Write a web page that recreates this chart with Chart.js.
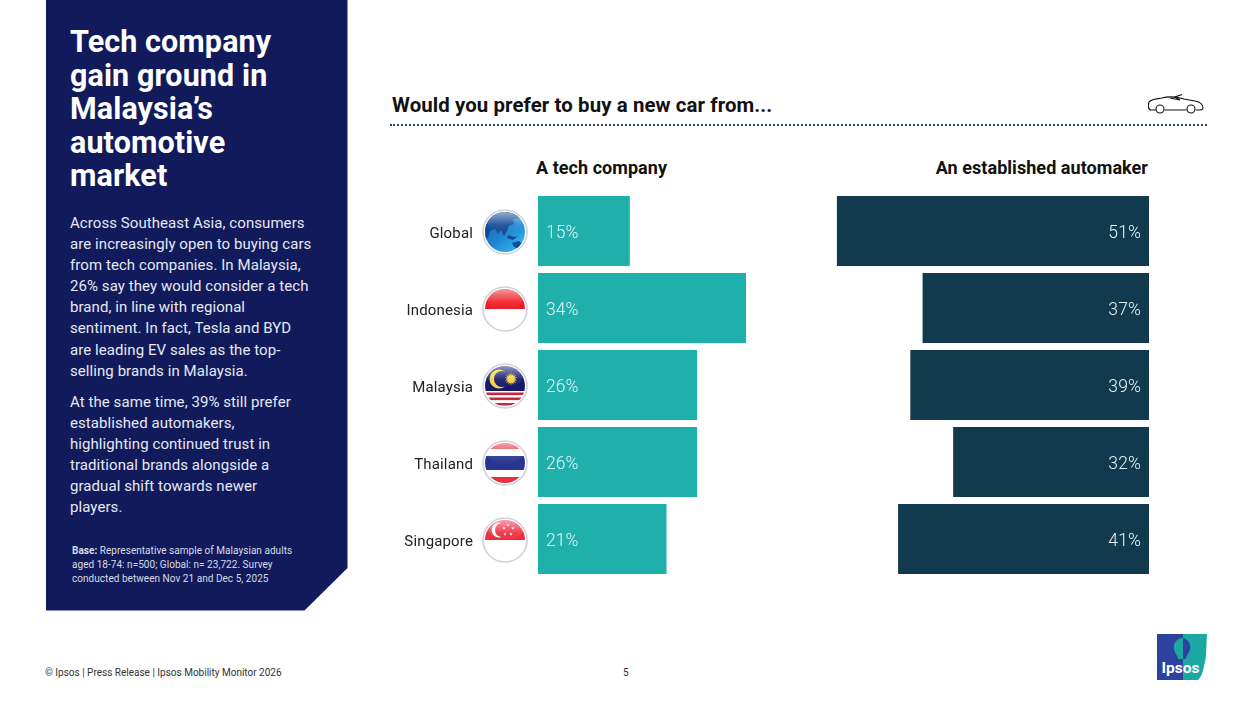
<!DOCTYPE html>
<html><head><meta charset="utf-8">
<script src="https://cdn.jsdelivr.net/npm/chart.js@4"></script>
<style>
html,body{margin:0;padding:0;background:#fff;width:1252px;height:704px;overflow:hidden;font-family:Roboto,sans-serif;}
.abs{position:absolute;}
#panel{left:45.5px;top:0;width:302px;height:610.5px;background:#111b5c;clip-path:polygon(0 0,100% 0,100% 568px,259px 100%,0 100%);}
#title{left:70px;top:25px;color:#fff;font:700 30.5px/33.6px Roboto,sans-serif;letter-spacing:.1px;}
.body{left:70px;color:#e6e8f2;font:400 15px/21.1px Roboto,sans-serif;letter-spacing:.07px;white-space:pre;}
#base{left:72px;top:544px;color:#d8dbe8;font:400 10px/14px Roboto,sans-serif;letter-spacing:.04px;white-space:pre;}
#q{left:392px;top:93px;font:700 20.4px/24px Roboto,sans-serif;color:#111;letter-spacing:.1px;}
#rule{left:390px;top:123.5px;width:817px;border-top:2px dotted #1f4560;}
.h{top:157px;font:700 18px/22px Roboto,sans-serif;color:#111;white-space:pre;letter-spacing:.05px;}
.foot{top:666px;font:400 10px/14px Roboto,sans-serif;color:#333;white-space:pre;}
canvas{position:absolute;}
</style></head><body>
<div class="abs" id="panel"></div>
<div class="abs" id="title">Tech company<br>gain ground in<br>Malaysia’s<br>automotive<br>market</div>
<div class="abs body" style="top:213px">Across Southeast Asia, consumers
are increasingly open to buying cars
from tech companies. In Malaysia,
26% say they would consider a tech
brand, in line with regional
sentiment. In fact, Tesla and BYD
are leading EV sales as the top-
selling brands in Malaysia.</div>
<div class="abs body" style="top:392px">At the same time, 39% still prefer
established automakers,
highlighting continued trust in
traditional brands alongside a
gradual shift towards newer
players.</div>
<div class="abs" id="base"><b>Base:</b> Representative sample of Malaysian adults
aged 18-74: n=500; Global: n= 23,722. Survey
conducted between Nov 21 and Dec 5, 2025</div>
<div class="abs" id="q">Would you prefer to buy a new car from...</div>
<div class="abs" id="rule"></div>
<svg class="abs" style="left:1147px;top:94px" width="58" height="22" viewBox="0 0 58 22" fill="none" stroke="#111" stroke-width="1.1">
<path d="M9 16H4C1 16 1 11 2 8C4 5 10 5 15 4C22 2 30 3 37 5L48 7C53 8 56 10 56 14C56 16 54 16 49 16"/>
<circle cx="13" cy="15" r="4"/><circle cx="44" cy="15" r="4"/><path d="M17.500 16H39.500M23 4L33 6L28 3L35 0.500"/>
</svg>
<svg class="abs" style="left:1157px;top:634px" width="50" height="46" viewBox="0 0 50 46">
<path d="M25 0H50C49 14 50 22 47 32C46 38 44 43 41 46H25Z" fill="#1ba8a2"/>
<rect width="26" height="46" fill="#2d429f"/>
<path d="M26 4C19 4 16 10 17 15C18 20 21 22 21 25H26Z" fill="#1ba8a2"/>
<path d="M26 4C31 5 34 10 33 15C32 20 29 22 29 25H26Z" fill="#2d429f"/>
<text x="4.500" y="39" font-family="Roboto" font-weight="700" font-size="15.500" fill="#fff">Ipsos</text>
</svg>
<div class="abs h" style="left:536px">A tech company</div>
<div class="abs h" style="right:104px">An established automaker</div>
<div class="abs foot" style="left:45px">© Ipsos | Press Release | Ipsos Mobility Monitor 2026</div>
<div class="abs foot" style="left:623px">5</div>
<canvas id="c1" style="left:390px;top:192px" width="380" height="386"></canvas>
<canvas id="c2" style="left:770px;top:192px" width="379" height="386"></canvas>
<script>
const categories=["Global","Indonesia","Malaysia","Thailand","Singapore"];
const techCompany=[15,34,26,26,21];
const establishedAutomaker=[51,37,39,32,41];
Chart.defaults.animation=false;
const valueLabels={id:'valueLabels',afterDatasetsDraw(ch,a,o){
 const c=ch.ctx,m=ch.getDatasetMeta(0);c.save();c.fillStyle='#e6f5f4';c.font='300 17.5px Roboto,sans-serif';c.textBaseline='middle';
 c.letterSpacing='.1px';c.textAlign=o.right?'right':'left';
 m.data.forEach((b,i)=>c.fillText(ch.data.datasets[0].data[i]+'%',b.base+(o.right?-8:8),b.y+2.5));c.restore();}};
function star(c,x,y,r,n=5,k=.45){c.beginPath();for(let i=0;i<2*n;i++){const a=-Math.PI/2+i*Math.PI/n,q=i%2?r*k:r;c.lineTo(x+q*Math.cos(a),y+q*Math.sin(a));}c.fill();}
const painters={
 Global(c){const g=c.createLinearGradient(-14,-16,14,16);g.addColorStop(0,'#1a62b8');g.addColorStop(.55,'#1f86d2');g.addColorStop(1,'#35b2ec');c.fillStyle=g;c.fillRect(-21,-21,42,42);
  c.fillStyle='#134a96';c.fill(new Path2D('M-21 -21H18L14 -14L8 -13L9 -8L4 -6L2 -1L-1 4L-4 -2L-7 2L-10 -3L-15 -1L-17 6L-21 8Z'));
  c.fill(new Path2D('M3 3L9 5L13 4L8 8L2 6Z'));c.fill(new Path2D('M7 11L14 9L18 13L14 17L9 15Z'));},
 Indonesia(c){c.fillStyle='#ee1c25';c.fillRect(-21,-21,42,21);c.fillStyle='#fff';c.fillRect(-21,0,42,21);},
 Malaysia(c){c.fillStyle='#fff';c.fillRect(-21,-21,42,42);c.fillStyle='#14196e';c.fillRect(-21,-21,42,26);
  c.fillStyle='#c8283c';[6.500,11.500,17].forEach(y=>c.fillRect(-21,y,42,2.600));
  c.fillStyle='#f7d33a';c.beginPath();c.arc(-6,-7,9.500,0,7);c.fill();c.fillStyle='#14196e';c.beginPath();c.arc(-3,-7,8,0,7);c.fill();
  c.fillStyle='#f7d33a';star(c,6,-7,6.500,14,.55);},
 Thailand(c){c.fillStyle='#fff';c.fillRect(-21,-21,42,42);c.fillStyle='#e8303c';c.fillRect(-21,-21,42,7);c.fillRect(-21,14,42,7);c.fillStyle='#27358f';c.fillRect(-21,-7,42,14);},
 Singapore(c){c.fillStyle='#ef2b3d';c.fillRect(-21,-21,42,21);c.fillStyle='#fff';c.fillRect(-21,0,42,21);
  c.beginPath();c.arc(-6,-10,7.500,0,7);c.fill();c.fillStyle='#ef2b3d';c.beginPath();c.arc(-3,-10,7,0,7);c.fill();
  c.fillStyle='#fff';[[1,-15],[6,-12],[4,-6],[-2,-6],[-3,-12]].forEach(p=>star(c,p[0]+2,p[1],1.700));}
};
const flagIcons={id:'flagIcons',afterDraw(ch){
 const c=ch.ctx,y=ch.scales.y,cx=ch.scales.x.left-33;
 categories.forEach((n,i)=>{const cy=y.getPixelForTick(i)+1;c.save();c.translate(cx,cy);
  c.beginPath();c.arc(0,0,22,0,7);c.fillStyle='#fff';c.fill();c.strokeStyle='#cfd2d6';c.lineWidth=1.600;c.stroke();
  c.beginPath();c.arc(0,0,20,0,7);c.clip();painters[n](c);
  const g=c.createLinearGradient(0,-20,0,2);g.addColorStop(0,'rgba(255,255,255,.55)');g.addColorStop(.6,'rgba(255,255,255,.08)');g.addColorStop(1,'rgba(255,255,255,0)');
  c.fillStyle=g;c.beginPath();c.ellipse(0,-10,18,11,0,0,7);c.fill();c.restore();});}};
const fontSpacing={id:'fontSpacing',beforeDraw(ch){ch.ctx.letterSpacing='.15px';}};
function opts(rev,showY,right){const w=showY?148:0;return{responsive:false,indexAxis:'y',layout:{padding:{top:.5,bottom:.5}},
 scales:{x:{reverse:rev,min:0,max:(rev?379:232)/6.12,display:false},
 y:{display:showY,position:'left',afterFit(s){s.width=w;s.paddingTop=0;s.paddingBottom=0;},grid:{display:false},border:{display:false},
 ticks:{color:'#222',font:{size:15,family:'Roboto'},padding:57,labelOffset:3}}},
 plugins:{legend:{display:false},tooltip:{enabled:false},valueLabels:{right}}};}
new Chart(c1,{type:'bar',data:{labels:categories,datasets:[{data:techCompany,backgroundColor:'#1fb0ab',barPercentage:.909,categoryPercentage:1}]},options:opts(false,true,false),plugins:[fontSpacing,valueLabels,flagIcons]});
new Chart(c2,{type:'bar',data:{labels:categories,datasets:[{data:establishedAutomaker,backgroundColor:'#113a4f',barPercentage:.909,categoryPercentage:1}]},options:opts(true,false,true),plugins:[valueLabels]});
</script></body></html>
